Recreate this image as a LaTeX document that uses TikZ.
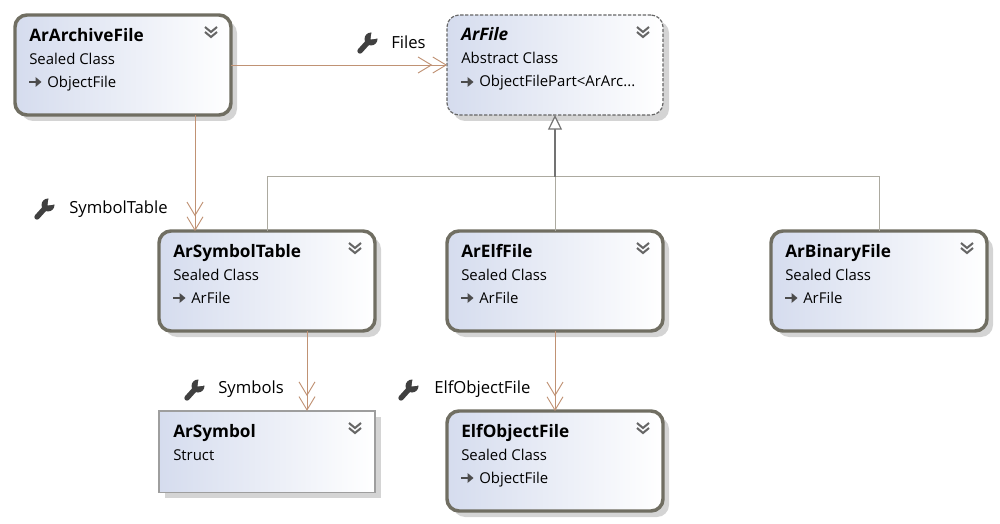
\documentclass[tikz,border=0pt]{standalone}
\usepackage{fontspec}
\setmainfont{Open Sans}
\usetikzlibrary{arrows.meta,shadows}
\definecolor{assoccolor}{RGB}{192,146,116}
\definecolor{bordercolor}{RGB}{112,110,98}
\definecolor{inheritcolor}{RGB}{172,170,160}
\definecolor{boxcolor}{RGB}{213,220,238}
\newcommand{\classtitle}[1]{\textbf{\fontsize{12.9}{17.25}\selectfont #1}}
\begin{document}
\begin{tikzpicture}[x=0.75pt,y=-0.75pt]
  \tikzstyle{classbox}=[minimum width=162pt,minimum height=75pt,inner sep=0pt,outer sep=0pt,left color=boxcolor,right color=white,
    drop shadow={shadow xshift=4.5pt,shadow yshift=-4.5pt,fill=black!17,opacity=1}]
  \tikzstyle{sealed}=[classbox,draw=bordercolor,line width=2.6pt,rounded corners=9pt]
  \tikzstyle{abstract}=[classbox,draw=black!60,dashed,dash pattern=on 2.5pt off 1.2pt,line width=0.9pt,rounded corners=9pt]
  \tikzstyle{structbox}=[classbox,draw=black!38,line width=1pt,minimum height=61pt]
  \tikzstyle{classtext}=[anchor=north west,align=left,inner sep=0pt,font=\fontsize{11.2}{17.25}\selectfont,execute at begin node=\strut]
  \tikzstyle{rolelabel}=[anchor=west,inner sep=0pt,font=\fontsize{12.5}{14}\selectfont]
  \tikzstyle{assoc}=[draw=assoccolor,line width=0.7pt,-{Straight Barb[length=10pt,width=12pt]Straight Barb[length=10pt,width=12pt]}]
  \tikzstyle{inheritline}=[draw=inheritcolor,line width=0.75pt]
  \tikzset{
    chevrons/.pic={
      \draw[black!60,line width=1.5pt] (-6,-4) -- (0,1) -- (6,-4);
      \draw[black!60,line width=1.5pt] (-6,1) -- (0,6) -- (6,1);
    },
    basearrow/.pic={
      \draw[black!70,line width=1.2pt] (-6,0) -- (2,0);
      \fill[black!70] (0.5,-5) -- (6.5,0) -- (0.5,5) -- cycle;
    },
    wrench/.pic={
      \draw[black!75,line width=4pt,line cap=round] (-7,8) -- (2,-2);
      \fill[black!75] (4,-4) circle (6.5);
      \fill[white] (3.5,-3.5) -- (5,-14) -- (14,-5) -- cycle;
    }
  }
  \useasboundingbox (0,0) rectangle (1000,524);

  \coordinate (joint) at (555,177);

  \node[sealed] (ArArchiveFile) at (123,65) {};
  \node[abstract] (ArFile) at (555,65) {};
  \node[sealed] (ArSymbolTable) at (267,281) {};
  \node[sealed] (ArElfFile) at (555,281) {};
  \node[sealed] (ArBinaryFile) at (879,281) {};
  \node[structbox] (ArSymbol) at (267,451.5) {};
  \node[sealed] (ElfObjectFile) at (555,461) {};

  \draw[assoc] (ArArchiveFile) -- (ArFile);
  \draw[assoc] ([xshift=54pt]ArArchiveFile.south) -- ([xshift=-54pt]ArSymbolTable.north);
  \draw[assoc] ([xshift=30pt]ArSymbolTable.south) -- ([xshift=30pt]ArSymbol.north);
  \draw[assoc] (ArElfFile) -- (ElfObjectFile);
  \draw[inheritline] (ArElfFile.north) -- (joint);
  \draw[inheritline] (ArSymbolTable.north) |- (joint);
  \draw[inheritline] (ArBinaryFile.north) |- (joint);
  \draw[draw=black!55,line width=0.9pt,-{Triangle[open,fill=white,length=11pt,width=10.5pt]}] (joint) -- (ArFile.south);

  \node[classtext] (ArArchiveFileText) at (29,28.4) {\classtitle{ArArchiveFile}\\Sealed Class\\\hspace{13.5pt}ObjectFile};
  \node[classtext] (ArFileText) at (461,27.4) {\classtitle{\itshape ArFile}\\Abstract Class\\\hspace{13.5pt}ObjectFilePart<ArArc...};
  \node[classtext] (ArSymbolTableText) at (173,244.4) {\classtitle{ArSymbolTable}\\Sealed Class\\\hspace{13.5pt}ArFile};
  \node[classtext] (ArElfFileText) at (461,244.4) {\classtitle{ArElfFile}\\Sealed Class\\\hspace{13.5pt}ArFile};
  \node[classtext] (ArBinaryFileText) at (785,244.4) {\classtitle{ArBinaryFile}\\Sealed Class\\\hspace{13.5pt}ArFile};
  \node[classtext] (ArSymbolText) at (173,424.4) {\classtitle{ArSymbol}\\Struct};
  \node[classtext] (ElfObjectFileText) at (461,424.4) {\classtitle{ElfObjectFile}\\Sealed Class\\\hspace{13.5pt}ObjectFile};

  \node[rolelabel] (FilesLabel) at (391,42) {Files};
  \node[rolelabel] (SymbolTableLabel) at (69,209) {SymbolTable};
  \node[rolelabel] (SymbolsLabel) at (218,389) {Symbols};
  \node[rolelabel] (ElfObjectFileLabel) at (434,389) {ElfObjectFile};

  \pic at (367,43) {wrench};
  \pic at (44,209) {wrench};
  \pic at (194,390) {wrench};
  \pic at (408,390) {wrench};

  \pic at (211,31) {chevrons};
  \pic at (643,31) {chevrons};
  \pic at (355,247) {chevrons};
  \pic at (643,247) {chevrons};
  \pic at (967,247) {chevrons};
  \pic at (355,427) {chevrons};
  \pic at (643,427) {chevrons};

  \pic at (35,82) {basearrow};
  \pic at (467,82) {basearrow};
  \pic at (179,298) {basearrow};
  \pic at (467,298) {basearrow};
  \pic at (791,298) {basearrow};
  \pic at (467,478) {basearrow};
\end{tikzpicture}
\end{document}
